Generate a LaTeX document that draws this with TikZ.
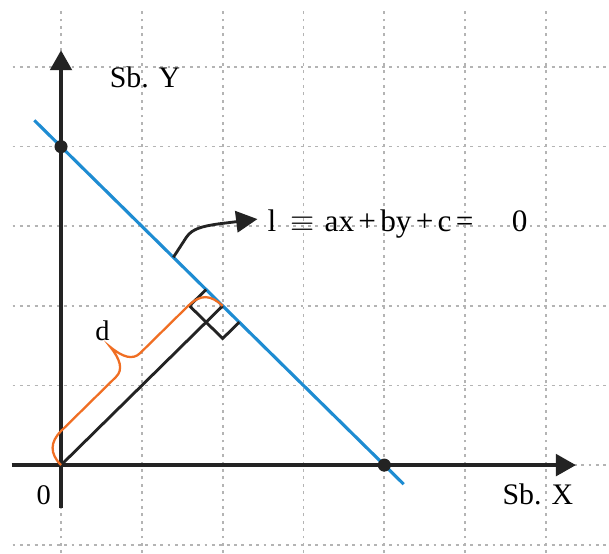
\documentclass[tikz,border=0pt]{standalone}
\usepackage{fontspec}
\setmainfont{Liberation Serif}
\usetikzlibrary{arrows.meta}
\definecolor{lineblue}{RGB}{30,140,210}
\definecolor{braceorange}{RGB}{240,110,35}
\definecolor{gridgray}{RGB}{180,180,180}
\definecolor{axisblack}{RGB}{35,35,35}
\begin{document}
\begin{tikzpicture}[x=1cm,y=0.985cm,
  gridline/.style={gridgray,line width=0.6pt,dash pattern=on 1pt off 1.6pt},
  axisline/.style={axisblack,line width=1.2pt,-{Triangle[length=7pt,width=7.6pt]}},
  blueline/.style={lineblue,line width=1.1pt},
  perpline/.style={axisblack,line width=1pt},
  bracestyle/.style={braceorange,line width=0.8pt},
  dotnode/.style={circle,fill=axisblack,inner sep=0pt,minimum size=4.6pt},
  lbl/.style={inner sep=0pt,font=\fontsize{10.5pt}{12pt}\selectfont},
  pointer/.style={axisblack,line width=1pt,-{Triangle[length=7.5pt,width=7.5pt]}}]
\useasboundingbox (-0.755,-1.106) rectangle (6.78,5.842);
\fill[white] (-0.755,-1.106) rectangle (6.78,5.842);
% grid
\foreach \x in {0,...,6} \draw[gridline] (\x,-1.106) -- (\x,5.72);
\foreach \y in {-1,...,5} \draw[gridline] (-0.6,\y) -- (6.78,\y);
% coordinates
\coordinate (O) at (0,0);
\coordinate (F) at (2,2);
\coordinate (xs) at (-0.61,0);
\coordinate (xe) at (6.37,0);
\coordinate (ys) at (0,-0.54);
\coordinate (ye) at (0,5.21);
\coordinate (ls) at (-0.33,4.33);
\coordinate (le) at (4.24,-0.24);
\coordinate (A) at (1.795,2.205);
\coordinate (B) at (1.59,2.0);
\coordinate (C) at (2.0,1.59);
\coordinate (D) at (2.205,1.795);
\coordinate (ps) at (1.39,2.61);
\coordinate (pb) at (1.55,2.86);
\coordinate (pc) at (1.95,3.03);
\coordinate (pt) at (2.43,3.09);
% axes
\draw[axisline] (xs) -- (xe);
\draw[axisline] (ys) -- (ye);
% line l
\draw[blueline] (ls) -- (le);
% perpendicular and right-angle mark
\draw[perpline] (O) -- (F);
\draw[perpline] (A) -- (B) -- (C) -- (D);
% brace along OF
\begin{scope}[shift={(O)},rotate=44.56,x=1cm,y=1cm]
  \draw[bracestyle] (0,0) .. controls (0.0,0.2) and (0.1,0.3) .. (0.3,0.3)
    -- (1.25,0.3) .. controls (1.38,0.3) and (1.44,0.42) .. (1.46,0.61)
    .. controls (1.48,0.42) and (1.54,0.3) .. (1.67,0.3)
    -- (2.5,0.3) .. controls (2.72,0.3) and (2.8,0.2) .. (2.807,0);
\end{scope}
% points
\node[dotnode] (P) at (0,4) {};
\node[dotnode] (Q) at (4,0) {};
% pointer arrow
\draw[pointer] (ps) -- (pb) .. controls (1.62,2.97) and (1.75,3.0) .. (pc) -- (pt);
% labels
\node[lbl] (sby) at (1.04,4.874) {Sb. Y};
\node[lbl] (sbx) at (5.90,-0.364) {Sb. X};
\node[lbl,font=\fontsize{10pt}{12pt}\selectfont] (zero) at (-0.214,-0.377) {0};
\node[lbl,font=\fontsize{10pt}{12pt}\selectfont] (d) at (0.514,1.683) {d};
\node[lbl,anchor=base west,font=\fontsize{11pt}{13pt}\selectfont] (eq) at (2.55,2.94) {l\hspace{5pt}$\equiv$\hspace{3.5pt}ax\hspace{1.5pt}+\hspace{1.5pt}by\hspace{1.5pt}+\hspace{1.5pt}c\hspace{1.5pt}=\hspace{13.5pt}0};
\end{tikzpicture}
\end{document}
